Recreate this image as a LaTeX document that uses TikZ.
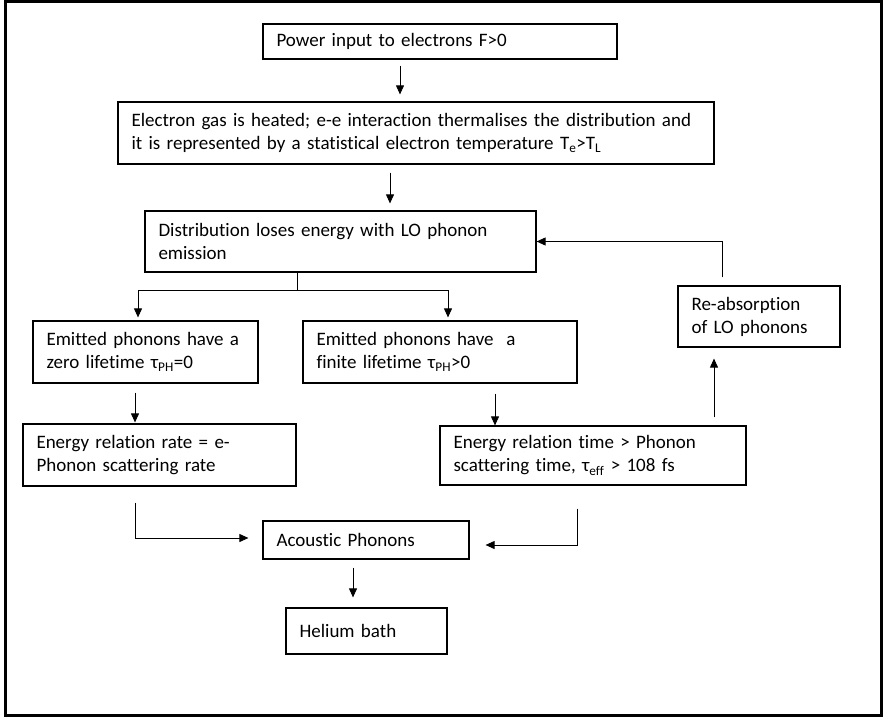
\documentclass[tikz,border=0pt]{standalone}
\usepackage{fontspec}
\setmainfont{Carlito}[Ligatures=NoCommon]
\usetikzlibrary{arrows.meta}

\tikzset{
  stage/.style={draw, line width=1.2pt, align=left, inner xsep=13.5pt, inner ysep=0pt,
    font=\fontsize{19}{23}\selectfont},
  flow/.style={-{Triangle[length=9pt,width=8pt]}, line width=0.9pt},
}

\begin{document}
\begin{tikzpicture}[x=1pt,y=1pt]
    \useasboundingbox (0,0) rectangle (883,-719);
    \draw[line width=3pt] (5.5,-1.5) rectangle (881,-715);

    % boxes, top to bottom
    \node[stage, text width=327pt, minimum height=35pt] (power) at (440,-41.5)
      {Power input to electrons F>0};
    \node[stage, text width=569pt, minimum height=62pt] (gas) at (416,-133)
      {Electron gas is heated; e-e interaction thermalises the distribution and\\
       it is represented by a statistical electron temperature T\textsubscript{e}>T\textsubscript{L}};
    \node[stage, text width=364pt, minimum height=61pt] (loss) at (340.5,-241.5)
      {Distribution loses energy with LO phonon\\ emission};
    \node[stage, text width=198pt, minimum height=62pt] (zero) at (145.5,-352)
      {Emitted phonons have a\\ zero lifetime τ\textsubscript{PH}=0};
    \node[stage, text width=247pt, minimum height=62pt] (finite) at (440,-352)
      {Emitted phonons have\ \ a\\ finite lifetime τ\textsubscript{PH}>0};
    \node[stage, text width=135pt, minimum height=61pt] (reabs) at (759,-316.5)
      {Re-absorption\\ of LO phonons};
    \node[stage, text width=246pt, minimum height=62pt] (rate) at (159.5,-455)
      {Energy relation rate = e-\\ Phonon scattering rate};
    \node[stage, text width=279pt, minimum height=59pt] (time) at (593,-455.5)
      {Energy relation time > Phonon\\ scattering time, τ\textsubscript{eff} > 108 fs};
    \node[stage, text width=179pt, minimum height=38pt] (acoustic) at (366,-540)
      {Acoustic Phonons};
    \node[stage, text width=134pt, minimum height=46pt] (helium) at (366.5,-631)
      {Helium bath};

    % main chain
    \draw[flow, shorten <=6pt, shorten >=7pt] ([xshift=-40pt]power.south) -- ([xshift=-40pt]gas.north -| power.south);
    \draw[flow, shorten <=8pt, shorten >=7pt] ([xshift=-26pt]gas.south) -- ([xshift=49.5pt]loss.north);

    % split into the two lifetime cases
    \draw[line width=0.9pt] ([xshift=-43.5pt]loss.south) -- ++(0,-18) coordinate (split);
    \draw[flow, shorten >=3pt] (split) -| ([xshift=-7.5pt]zero.north);
    \draw[flow, shorten >=3pt] (split) -| ([xshift=8pt]finite.north);

    \draw[flow, shorten <=9pt, shorten >=1pt] ([xshift=-10.5pt]zero.south) -- ([xshift=-24.5pt]rate.north);
    \draw[flow, shorten <=10pt] ([xshift=55pt]finite.south) -- ([xshift=-98pt]time.north);

    % re-absorption loop
    \draw[flow, shorten <=8pt, shorten >=11pt] ([xshift=121pt]time.north) -- ([xshift=-45pt]reabs.south);
    \draw[flow, shorten <=8pt] ([xshift=-37pt]reabs.north) |- (loss.east);

    % down to the bath
    \draw[flow, shorten <=16pt, shorten >=14pt] ([xshift=-24.5pt]rate.south) |- ([yshift=2pt]acoustic.west);
    \draw[flow, shorten <=23pt, shorten >=16pt] ([xshift=-16pt]time.south) |- ([yshift=-5pt]acoustic.east);
    \draw[flow, shorten <=8pt, shorten >=10pt] ([xshift=-13pt]acoustic.south) -- ([xshift=-13.5pt]helium.north);
\end{tikzpicture}
\end{document}
